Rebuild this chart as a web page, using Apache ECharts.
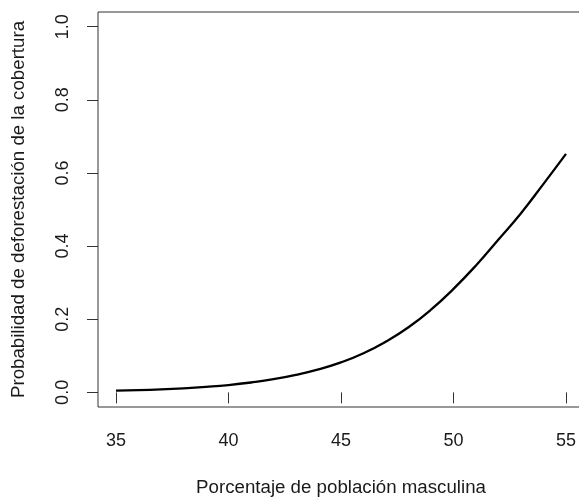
<!DOCTYPE html>
<html>
<head>
<meta charset="utf-8">
<script src="https://cdn.jsdelivr.net/npm/echarts@6/dist/echarts.min.js"></script>
<style>html,body{margin:0;padding:0;background:#fff}#c{width:579px;height:498px}</style>
</head>
<body>
<div id="c"></div>
<script>
var xValues = [35,36,37,38,39,40,41,42,43,44,45,46,47,48,49,50,51,52,53,54,55];
var probValues = [0.005,0.006,0.008,0.011,0.015,0.020,0.027,0.036,0.048,0.063,0.082,0.107,0.139,0.178,0.226,0.283,0.347,0.418,0.490,0.570,0.652];
var xTicks = [35,40,45,50,55];
var yTicks = [0,0.2,0.4,0.6,0.8,1.0];
var xTitle = 'Porcentaje de población masculina';
var yTitle = 'Probabilidad de deforestación de la cobertura';

var font = 'Liberation Sans, Arial, sans-serif';
var chart = echarts.init(document.getElementById('c'), null, {renderer:'canvas'});
chart.setOption({
  animation: false,
  backgroundColor: '#fff',
  grid: {left: 98, top: 12, width: 486, height: 395, outerBoundsMode: 'none', containLabel: false, show: true, borderColor: '#333', borderWidth: 1, backgroundColor: 'transparent'},
  xAxis: {
    type: 'value', min: 34.2, max: 55.8,
    axisLine: {show: false},
    splitLine: {show: false},
    axisTick: {show: true, inside: false, length: 11, lineStyle: {color: '#333'}, customValues: xTicks},
    axisLabel: {show: true, margin: 25, fontSize: 18, fontFamily: font, color: '#1a1a1a', customValues: xTicks, formatter: function(v){return String(v);}},
    name: xTitle, nameLocation: 'middle', nameGap: 71,
    nameTextStyle: {fontSize: 18.7, fontFamily: font, color: '#1a1a1a'}
  },
  yAxis: {
    type: 'value', min: -0.04, max: 1.04,
    axisLine: {show: false},
    splitLine: {show: false},
    axisTick: {show: true, inside: false, length: 11, lineStyle: {color: '#333'}, customValues: yTicks},
    axisLabel: {show: true, margin: 26, rotate: 90, fontSize: 18, fontFamily: font, color: '#1a1a1a', customValues: yTicks, formatter: function(v){return v.toFixed(1);}},
    name: yTitle, nameLocation: 'middle', nameGap: 70, nameRotate: 90,
    nameTextStyle: {fontSize: 18.7, fontFamily: font, color: '#1a1a1a'}
  },
  series: [{
    type: 'line',
    data: xValues.map(function(x, i){ return [x, probValues[i]]; }),
    smooth: true,
    showSymbol: false,
    lineStyle: {color: '#000', width: 2.3}
  }]
});
</script>
</body>
</html>
